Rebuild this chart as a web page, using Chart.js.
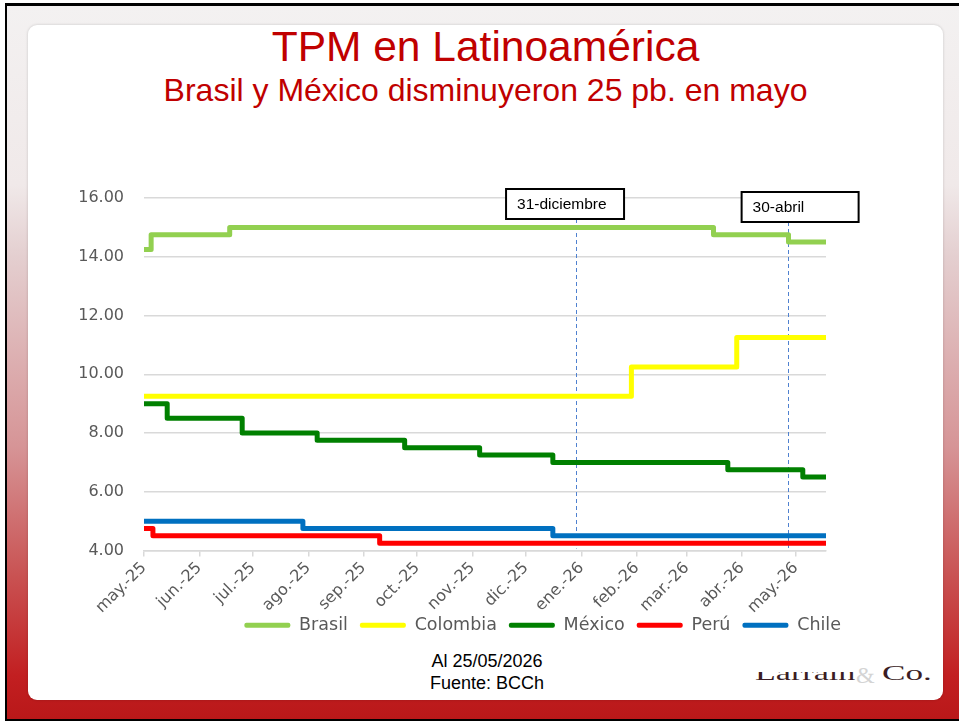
<!DOCTYPE html>
<html lang="es">
<head>
<meta charset="utf-8">
<script src="https://cdn.jsdelivr.net/npm/chart.js@4/dist/chart.umd.min.js"></script>
<style>
  html, body { margin:0; padding:0; width:959px; height:721px; overflow:hidden; background:#ffffff; }
  #frame { position:absolute; left:5px; top:3px; width:970px; height:713px;
    border-left:2px solid #000; border-top:3px solid #000; border-bottom:3px solid #000;
    background:linear-gradient(to bottom, #f3f1f1 0%, #f0e9e9 25%, #e4cfd0 35%, #d69496 62%, #c95252 80%, #c21f21 94%, #b91819 100%); }
  #card { position:absolute; left:28px; top:25px; width:915px; height:675px; background:#fff;
    border-radius:9px; box-shadow:0 0 3px rgba(0,0,0,0.18); }
  .txt { position:absolute; font-family:"Liberation Sans", Arial, sans-serif; white-space:nowrap; }
  #title { left:28px; width:915px; top:26px; text-align:center; font-size:42.5px; line-height:42px; color:#c00000; }
  #subtitle { left:28px; width:915px; top:75px; text-align:center; font-size:32px; line-height:30px; color:#c00000; }
  #foot { left:387px; width:200px; top:650px; text-align:center; font-size:18px; line-height:22px; color:#000; }
  #logoA { position:absolute; left:755px; top:672px; width:104px; height:12px; overflow:hidden; }
  #logoA span { position:absolute; left:0; top:-12px; font-family:"Liberation Serif", serif; font-size:22px; line-height:26px; color:#3b1d24; transform-origin:0 0; transform:scaleX(1.55); }
  #logoB { position:absolute; left:856px; top:662px; font-family:"Liberation Serif", serif; font-size:24px; line-height:26px; color:#d4d4d4; }
  #logoC { position:absolute; left:882px; top:660px; font-family:"Liberation Serif", serif; font-size:22px; line-height:26px; color:#3b1d24; transform-origin:0 0; transform:scaleX(1.6); }
  #c { position:absolute; left:0; top:0; }
</style>
</head>
<body>
<div id="frame"></div>
<div id="card"></div>
<div class="txt" id="title">TPM en Latinoamérica</div>
<div class="txt" id="subtitle">Brasil y México disminuyeron 25 pb. en mayo</div>
<div class="txt" id="foot">Al 25/05/2026<br>Fuente: BCCh</div>
<div id="logoA"><span>Larrain</span></div>
<div id="logoB">&amp;</div>
<div id="logoC">Co.</div>
<canvas id="c" width="959" height="721"></canvas>
<script>
// ---- Data (x = days since 1-may-2025) ----
const monthTickDays = [0, 31, 61, 92, 123, 153, 184, 214, 245, 276, 304, 335, 365];
const monthLabels = ['may.-25','jun.-25','jul.-25','ago.-25','sep.-25','oct.-25','nov.-25','dic.-25','ene.-26','feb.-26','mar.-26','abr.-26','may.-26'];
const lastDay = 382;

const seriesNames = ['Brasil', 'Colombia', 'México', 'Perú', 'Chile'];

const brasilDays   = [0, 4, 48, 319, 361, 382];
const brasilVals   = [14.25, 14.75, 15.00, 14.75, 14.50, 14.50];

const colombiaDays = [0, 273, 332, 382];
const colombiaVals = [9.25, 10.25, 11.25, 11.25];

const mexicoDays   = [0, 13, 55, 97, 146, 188, 229, 327, 369, 382];
const mexicoVals   = [9.00, 8.50, 8.00, 7.75, 7.50, 7.25, 7.00, 6.75, 6.50, 6.50];

const peruDays     = [0, 5, 132, 382];
const peruVals     = [4.75, 4.50, 4.25, 4.25];

const chileDays    = [0, 89, 229, 382];
const chileVals    = [5.00, 4.75, 4.50, 4.50];

const markerDays   = [242, 360.5];
const markerLabels = ['31-diciembre', '30-abril'];

const yMin = 4, yMax = 16, yStep = 2;

// ---- Build ----
const colors = ['#92D050', '#FFFF00', '#008000', '#FF0000', '#0070C0'];
const dayLists = [brasilDays, colombiaDays, mexicoDays, peruDays, chileDays];
const valLists = [brasilVals, colombiaVals, mexicoVals, peruVals, chileVals];

const datasets = seriesNames.map((name, i) => ({
  label: name,
  data: dayLists[i].map((d, k) => ({ x: d, y: valLists[i][k] })),
  borderColor: colors[i],
  backgroundColor: colors[i],
  borderWidth: 5,
  pointRadius: 0,
  stepped: true,
  borderJoinStyle: 'round',
  fill: false
}));

const markerPlugin = {
  id: 'markers',
  afterLayout(chart) {
    // let rotated x labels overflow below the axis box (no clipping)
    chart.scales.x.bottom += 40;
  },
  beforeDatasetsDraw(chart, args, opts) {
    const { ctx, chartArea, scales } = chart;
    ctx.save();
    ctx.strokeStyle = '#4f81d0';
    ctx.lineWidth = 1;
    ctx.setLineDash([4, 3]);
    markerDays.forEach((d, i) => {
      const x = Math.round(scales.x.getPixelForValue(d)) + 0.5;
      ctx.beginPath();
      ctx.moveTo(x, chartArea.top + opts.boxes[i].dy + opts.boxes[i].h);
      ctx.lineTo(x, chartArea.bottom - 2);
      ctx.stroke();
    });
    ctx.restore();
  },
  afterDatasetsDraw(chart, args, opts) {
    const { ctx, chartArea, scales } = chart;
    ctx.save();
    markerDays.forEach((d, i) => {
      const b = opts.boxes[i];
      const x = scales.x.getPixelForValue(d) + b.dx;
      const y = chartArea.top + b.dy;
      ctx.fillStyle = '#ffffff';
      ctx.fillRect(x, y, b.w, b.h);
      ctx.strokeStyle = '#000000';
      ctx.lineWidth = 2;
      ctx.strokeRect(x, y, b.w, b.h);
      ctx.fillStyle = '#000000';
      ctx.font = '15.5px "Liberation Sans", Arial, sans-serif';
      ctx.textBaseline = 'middle';
      ctx.textAlign = 'left';
      ctx.fillText(markerLabels[i], x + 11, y + b.h / 2 + 1);
    });
    ctx.restore();
  }
};

const tickFont = { family: '"DejaVu Sans", sans-serif', size: 16 };

new Chart(document.getElementById('c'), {
  type: 'line',
  data: { datasets },
  plugins: [markerPlugin],
  options: {
    responsive: false,
    devicePixelRatio: 1,
    animation: false,
    layout: { padding: { left: 64, right: 106, top: 198, bottom: 77 } },
    plugins: {
      tooltip: { enabled: false },
      title: { display: false },
      legend: {
        position: 'bottom',
        align: 'end',
        labels: {
          boxWidth: 46,
          boxHeight: 5,
          padding: 12,
          color: '#595959',
          font: { family: '"DejaVu Sans", sans-serif', size: 17.5 },
          generateLabels(chart) {
            return chart.data.datasets.map((ds, i) => ({
              text: ds.label,
              fillStyle: ds.borderColor,
              strokeStyle: ds.borderColor,
              lineWidth: 0,
              fontColor: '#595959',
              borderRadius: 2,
              datasetIndex: i,
              hidden: false
            }));
          }
        }
      },
      markers: {
        boxes: [
          { dx: -70, dy: -9, w: 118, h: 30 },
          { dx: -46, dy: -6, w: 117, h: 30 }
        ]
      }
    },
    scales: {
      x: {
        type: 'linear',
        min: 0,
        max: lastDay,
        afterBuildTicks(scale) { scale.ticks = monthTickDays.map(v => ({ value: v })); },
        afterFit(scale) { scale.height = 54; },
        ticks: {
          autoSkip: false,
          minRotation: 45,
          maxRotation: 45,
          color: '#595959',
          font: tickFont,
          padding: 2,
          callback(value, index) { return monthLabels[index]; }
        },
        grid: { drawOnChartArea: false, drawTicks: true, tickLength: 6, color: '#D9D9D9', lineWidth: 1.5 },
        border: { display: true, color: '#D9D9D9', width: 1.5 }
      },
      y: {
        min: yMin,
        max: yMax,
        afterFit(scale) { scale.width = 80; },
        ticks: {
          stepSize: yStep,
          color: '#595959',
          font: tickFont,
          padding: 20,
          callback(v) { return Number(v).toFixed(2); }
        },
        grid: { color: '#D9D9D9', lineWidth: 1.5, drawTicks: false },
        border: { display: false }
      },
      y2: {
        position: 'right',
        display: true,
        min: yMin,
        max: yMax,
        afterFit(scale) { scale.width = 27; },
        ticks: { display: false },
        grid: { display: false, drawTicks: false },
        border: { display: false }
      }
    }
  }
});
</script>
</body>
</html>
